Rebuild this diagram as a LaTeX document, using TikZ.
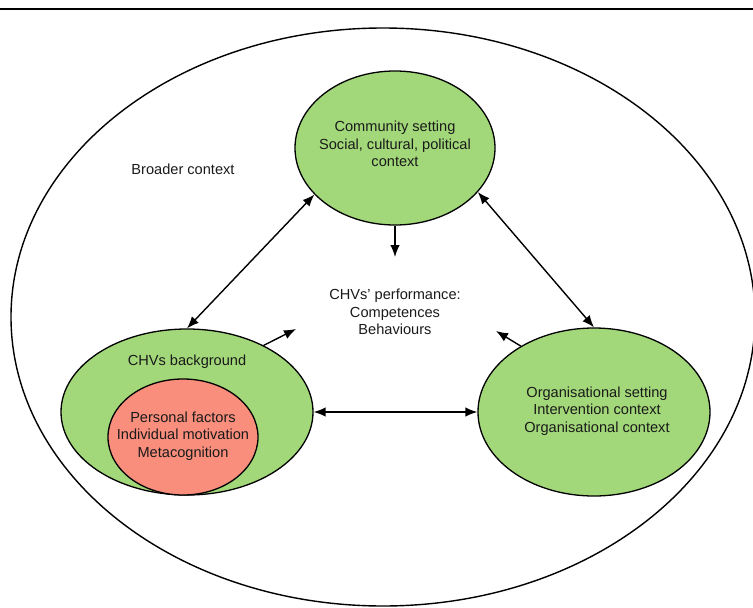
\documentclass[tikz,border=0pt]{standalone}
\usepackage{fontspec}
\setmainfont{Liberation Sans}
\usetikzlibrary{shapes.geometric,arrows.meta}
\definecolor{lgreen}{HTML}{A2D879}
\definecolor{salmon}{HTML}{F98E7D}
\definecolor{txt}{HTML}{1A1A1A}
\begin{document}
\begin{tikzpicture}[x=1pt,y=-1pt,
  blob/.style={ellipse,draw=black,line width=1.3pt,inner sep=0pt},
  lbl/.style={align=center,text=txt,font=\fontsize{14.6}{17.6}\selectfont,inner sep=0pt},
  arr/.style={line width=1.4pt,-{Latex[length=12pt,width=9.5pt]}},
  darr/.style={line width=1.4pt,{Latex[length=12pt,width=9.5pt]}-{Latex[length=12pt,width=9.5pt]}}]
\useasboundingbox (0,0) rectangle (753,608);
\draw[line width=1.8pt] (0,9) -- (753,9);
\node[blob,line width=1.4pt,minimum width=744pt,minimum height=578pt] (outer) at (383,317) {};
\node[lbl] (broad) at (183,169) {Broader context};
\node[blob,fill=lgreen,minimum width=200pt,minimum height=154pt] (comm) at (395,148) {};
\node[lbl] (commt) at (395,144) {Community setting\\Social, cultural, political\\context};
\node[blob,fill=lgreen,minimum width=252pt,minimum height=166pt] (bg) at (187,412) {};
\node[lbl] (bgt) at (187,362) {CHVs background};
\node[blob,fill=salmon,minimum width=150pt,minimum height=116pt] (pers) at (183,437) {};
\node[lbl] (perst) at (183,436) {Personal factors\\Individual motivation\\Metacognition};
\node[blob,fill=lgreen,minimum width=232pt,minimum height=168pt] (org) at (594,412) {};
\node[lbl] (orgt) at (597,411) {Organisational setting\\Intervention context\\Organisational context};
\node[lbl] (perf) at (395,312) {CHVs\symbol{"27} performance:\\Competences\\Behaviours};
\coordinate (down) at (395,257);
\coordinate (bgend) at (296,329);
\coordinate (orgend) at (496,331);
\draw[darr] (comm.210) -- (bg.north);
\draw[darr] (comm.332) -- (org.north);
\draw[arr] (comm.south) -- (down);
\draw[arr] (bg.41) -- (bgend);
\draw[arr] (org.138) -- (orgend);
\draw[darr] (bg.east) -- (org.west);
\end{tikzpicture}
\end{document}
